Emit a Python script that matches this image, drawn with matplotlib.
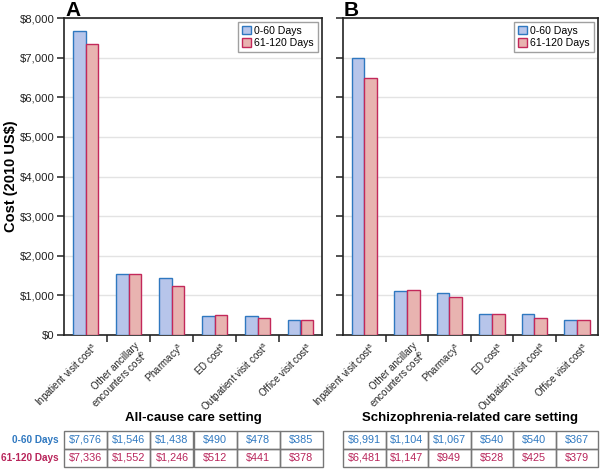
import matplotlib
matplotlib.use("Agg")
import matplotlib.pyplot as plt
import numpy as np
from matplotlib.patches import Rectangle

plt.rcParams['font.family'] = ['Liberation Sans', 'DejaVu Sans']
plt.rcParams['mathtext.fontset'] = 'custom'
plt.rcParams['mathtext.rm'] = 'Liberation Sans'

categories = ["Inpatient visit cost$^{\\mathrm{a}}$",
              "Other ancillary\nencounters cost$^{\\mathrm{b}}$",
              "Pharmacy$^{\\mathrm{a}}$",
              "ED cost$^{\\mathrm{a}}$",
              "Outpatient visit cost$^{\\mathrm{a}}$",
              "Office visit cost$^{\\mathrm{a}}$"]
series_names = ["0-60 Days", "61-120 Days"]
allcause_0_60 = [7676, 1546, 1438, 490, 478, 385]
allcause_61_120 = [7336, 1552, 1246, 512, 441, 378]
schizo_0_60 = [6991, 1104, 1067, 540, 540, 367]
schizo_61_120 = [6481, 1147, 949, 528, 425, 379]
panel_titles = ["All-cause care setting", "Schizophrenia-related care setting"]
panel_letters = ["A", "B"]
yticks = [0, 1000, 2000, 3000, 4000, 5000, 6000, 7000, 8000]

blue_fill = "#b7c5ea"
blue_edge = "#2f78c0"
red_fill = "#e8b3b0"
red_edge = "#c3285a"
blue_txt = "#2f78c0"
red_txt = "#b8245a"

W, H = 600, 471
fig = plt.figure(figsize=(6, 4.71), dpi=100)

def fx(px):
    return px / W
def fy(py):
    return 1 - py / H

panels = [
    (64, 322, allcause_0_60, allcause_61_120),
    (343, 598, schizo_0_60, schizo_61_120),
]
ax_top, ax_bot = 18, 335
x = np.arange(len(categories))
bw = 0.3
for i, (l, r, s1, s2) in enumerate(panels):
    ax = fig.add_axes([fx(l), fy(ax_bot), fx(r) - fx(l), fy(ax_top) - fy(ax_bot)])
    ax.bar(x - bw / 2, s1, bw, color=blue_fill, edgecolor=blue_edge, linewidth=1.0, label=series_names[0], zorder=3)
    ax.bar(x + bw / 2, s2, bw, color=red_fill, edgecolor=red_edge, linewidth=1.0, label=series_names[1], zorder=3)
    ax.set_xlim(-0.5, len(categories) - 0.5)
    ax.set_ylim(0, 8000)
    ax.set_yticks(yticks)
    ax.yaxis.grid(True, color="#e3e3e3", linewidth=1.0, zorder=0)
    ax.set_axisbelow(True)
    for sp in ax.spines.values():
        sp.set_linewidth(1.2)
        sp.set_color("#222222")
    if i == 0:
        ax.set_yticklabels(["${:,}".format(v) for v in yticks], fontsize=8.2, color="#222222")
    else:
        ax.set_yticklabels([])
    ax.tick_params(axis="y", direction="out", length=5, width=1.1, colors="#222222", pad=2)
    ax.set_xticks(np.arange(0.5, len(categories) - 0.5, 1.0), minor=False)
    ax.set_xticklabels([])
    ax.tick_params(axis="x", direction="out", length=5, width=1.1, colors="#222222")
    ax.set_xticks(x + 0.14, minor=True)
    ax.set_xticklabels(categories, minor=True, rotation=45, ha="right", rotation_mode="anchor",
                       fontsize=7.0, color="#222222", linespacing=0.95)
    ax.tick_params(axis="x", which="minor", length=0, pad=4)
    leg = ax.legend(loc="upper right", fontsize=7.6, frameon=True, fancybox=False,
                    edgecolor="#888888", handlelength=0.85, handleheight=0.85,
                    handletextpad=0.35, borderpad=0.4, labelspacing=0.2,
                    borderaxespad=0.35)
    leg.get_frame().set_linewidth(1.0)
    fig.text(fx(l + 1), fy(10), panel_letters[i], fontsize=15, fontweight="bold",
             ha="left", va="center")

fig.text(fx(11), fy(176), "Cost (2010 US$)", rotation=90, ha="center", va="center",
         fontsize=10.5, fontweight="bold")

tables = [
    (64, 323, allcause_0_60, allcause_61_120),
    (343, 598, schizo_0_60, schizo_61_120),
]
row_tops = [431, 449, 467]
for i, (l, r, s1, s2) in enumerate(tables):
    tax = fig.add_axes([fx(l), fy(row_tops[2]), fx(r) - fx(l), fy(row_tops[0]) - fy(row_tops[2])])
    tax.set_xlim(0, len(categories))
    tax.set_ylim(0, 2)
    tax.axis("off")
    for j in range(len(categories)):
        for k, (vals, col) in enumerate([(s1, blue_txt), (s2, red_txt)]):
            yy = 1 - k
            tax.add_patch(Rectangle((j, yy), 1, 1, fill=False, edgecolor="#777777", linewidth=1.0,
                                    clip_on=False))
            tax.text(j + 0.5, yy + 0.5, "${:,}".format(vals[j]), ha="center", va="center",
                     fontsize=7.8, color=col)
    fig.text(fx((l + r) / 2), fy(418), panel_titles[i], ha="center", va="center",
             fontsize=9.5, fontweight="bold")

fig.text(fx(59), fy(440), series_names[0], ha="right", va="center", fontsize=7.2,
         fontweight="bold", color=blue_txt)
fig.text(fx(59), fy(458), series_names[1], ha="right", va="center", fontsize=7.2,
         fontweight="bold", color=red_txt)

fig.savefig("out.png", dpi=100)
